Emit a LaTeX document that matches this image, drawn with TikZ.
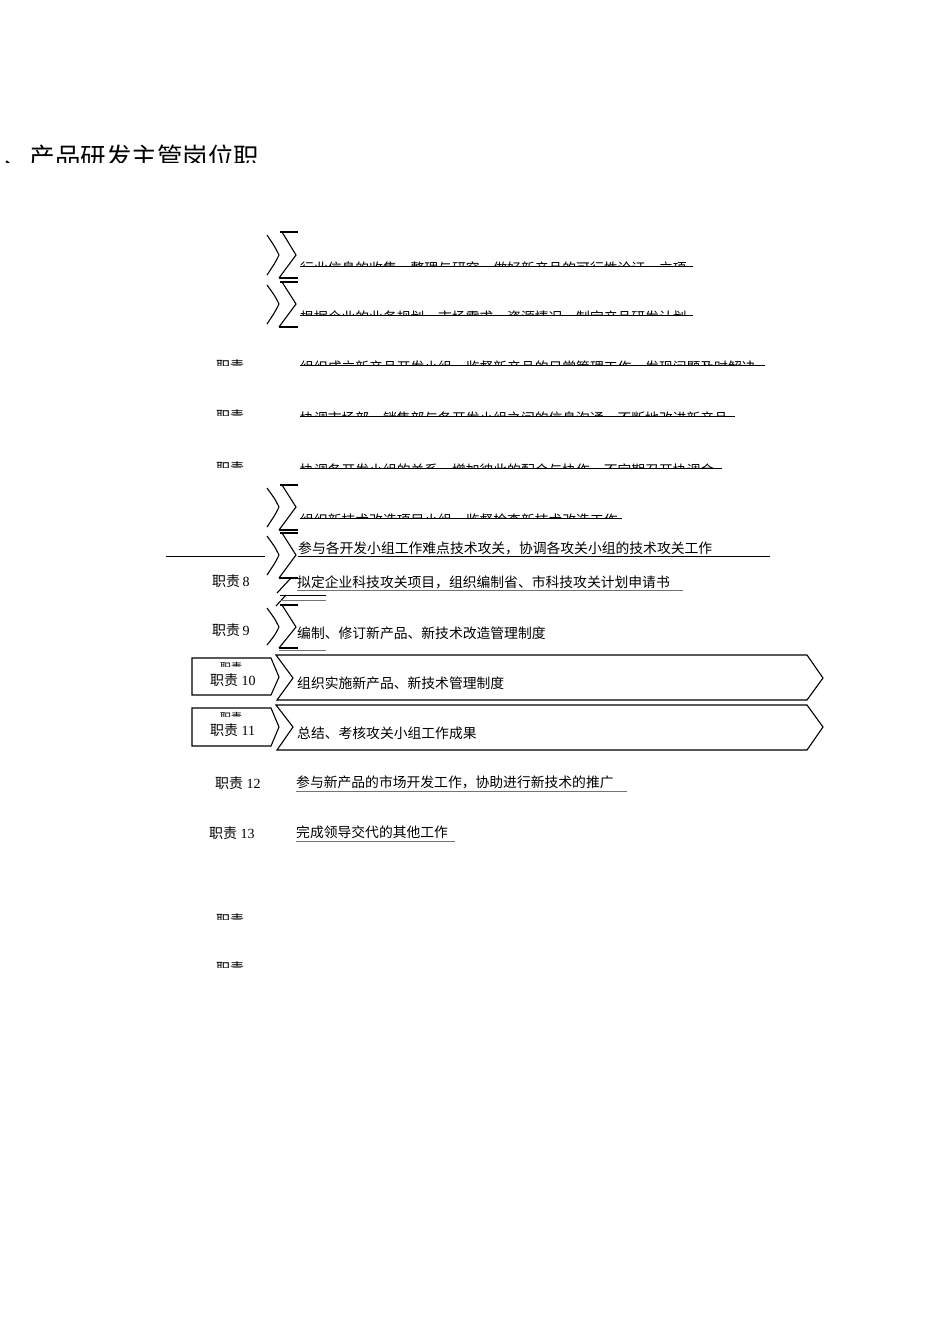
\documentclass[tikz,border=0pt]{standalone}
\usepackage{fontspec}
\setmainfont{Liberation Serif}
\newfontfamily\cjk{Noto Sans CJK SC}
\newcommand\zhize{{\cjk 职责}}
\newcommand\sigfrag[3]{%
  \draw[frag] (267,#1+3) .. controls (275,#2-8) .. (279,#2) .. controls (275,#2+8) .. (267,#3-3);
  \draw[frag] (280,#1) -- (298,#1);
  \draw[frag] (282,#1) -- (296,#2) -- (279,#3);
  \draw[frag] (279,#3) -- (298,#3);}
\begin{document}
\begin{tikzpicture}[x=1pt,y=-1pt,
  txt/.style={anchor=west,inner sep=0pt,font=\cjk\fontsize{13.8}{14}\selectfont},
  lab/.style={anchor=center,inner sep=0pt,font=\fontsize{14}{15}\selectfont},
  frag/.style={line width=1.1pt,line join=miter},
  uline/.style={line width=0.8pt},
  gline/.style={line width=0.9pt,draw=black!55},
  boxline/.style={draw,line width=1.1pt,fill=white}]
\useasboundingbox (0,0) rectangle (950,1344);

% title (cut at the bottom)
\begin{scope}
\clip (0,0) rectangle (950,162);
\node[anchor=west,inner sep=0pt,font=\cjk\fontsize{25.5}{27}\selectfont] (title) at (4,157) {、产品研发主管岗位职};
\end{scope}

% rows 1-2
\sigfrag{232}{255}{278}
\sigfrag{282}{304}{327}
\begin{scope}
\clip (0,0) rectangle (950,266);
\node[txt] (t1) at (300,268) {行业信息的收集、整理与研究，做好新产品的可行性论证、立项};
\end{scope}
\draw[uline] (300,266) -- (693,266);
\begin{scope}
\clip (0,0) rectangle (950,315);
\node[txt] (t2) at (300,317) {根据企业的业务规划、市场需求、资源情况，制定产品研发计划};
\end{scope}
\draw[uline] (300,315) -- (693,315);

% rows 3-5
\begin{scope}
\clip (0,0) rectangle (950,365);
\node[lab] (l3) at (230,366) {\zhize};
\node[txt] (t3) at (300,367) { 组织成立新产品开发小组，监督新产品的日常管理工作，发现问题及时解决};
\end{scope}
\draw[uline] (300,365) -- (765,365);
\begin{scope}
\clip (0,0) rectangle (950,415);
\node[lab] (l4) at (230,416) {\zhize};
\node[txt] (t4) at (300,418) {协调市场部、销售部与各开发小组之间的信息沟通，不断地改进新产品};
\end{scope}
\draw[uline] (300,416) -- (735,416);
\begin{scope}
\clip (0,0) rectangle (950,467);
\node[lab] (l5) at (230,468) {\zhize};
\node[txt] (t5) at (300,470) {协调各开发小组的关系，增加彼此的配合与协作，不定期召开协调会};
\end{scope}
\draw[uline] (300,468) -- (722,468);

% row 6
\sigfrag{485}{507}{530}
\begin{scope}
\clip (0,0) rectangle (950,518);
\node[txt] (t6) at (300,520) {组织新技术改造项目小组，监督检查新技术改造工作};
\end{scope}
\draw[uline] (300,518) -- (622,518);

% row 7
\sigfrag{533}{555}{578}
\node[txt] (t7) at (298,548) {参与各开发小组工作难点技术攻关，协调各攻关小组的技术攻关工作};
\draw[uline] (166,556) -- (265,556);
\draw[uline] (298,556) -- (770,556);

% row 8
\node[lab,anchor=west] (l8) at (212,581) {\zhize\,8};
\draw[frag] (277,593) -- (291,578);
\draw[frag] (276,606) -- (286,595);
\draw[uline] (280,595) -- (326,595);
\draw[gline] (280,600) -- (326,600);
\node[txt] (t8) at (297,582) {拟定企业科技攻关项目，组织编制省、市科技攻关计划申请书};
\draw[gline] (297,590) -- (683,590);

% row 9
\sigfrag{605}{627}{648}
\draw[gline] (279,650) -- (326,650);
\node[lab,anchor=west] (l9) at (212,630) {\zhize\,9};
\node[txt] (t9) at (297,633) {编制、修订新产品、新技术改造管理制度};

% row 10
\path[boxline] (276,655) -- (807,655) -- (823,678) -- (807,700) -- (277,700) -- (293,678) -- cycle;
\path[boxline] (192,658) -- (271,658) -- (279,677) -- (271,695) -- (192,695) -- cycle;
\begin{scope}
\clip (0,0) rectangle (950,666);
\node[lab,font=\fontsize{11}{12}\selectfont] (l10a) at (231,667) {\zhize};
\end{scope}
\node[lab,anchor=west] (l10) at (210,680) {\zhize\ 10};
\node[txt] (t10) at (297,683) {组织实施新产品、新技术管理制度};

% row 11
\path[boxline] (276,705) -- (807,705) -- (823,727) -- (807,750) -- (277,750) -- (293,727) -- cycle;
\path[boxline] (192,708) -- (271,708) -- (279,727) -- (271,746) -- (192,746) -- cycle;
\begin{scope}
\clip (0,0) rectangle (950,716);
\node[lab,font=\fontsize{11}{12}\selectfont] (l11a) at (231,717) {\zhize};
\end{scope}
\node[lab,anchor=west] (l11) at (210,730) {\zhize\ 11};
\node[txt] (t11) at (297,733) {总结、考核攻关小组工作成果};

% rows 12-13
\node[lab,anchor=west] (l12) at (215,783) {\zhize\ 12};
\node[txt] (t12) at (296,782) {参与新产品的市场开发工作，协助进行新技术的推广};
\draw[gline] (296,791) -- (627,791);
\node[lab,anchor=west] (l13) at (209,833) {\zhize\ 13};
\node[txt] (t13) at (296,832) {完成领导交代的其他工作};
\draw[gline] (296,841) -- (455,841);

% cut labels below
\begin{scope}
\clip (0,0) rectangle (950,919);
\node[lab] (l14) at (230,920) {\zhize};
\end{scope}
\begin{scope}
\clip (0,0) rectangle (950,967);
\node[lab] (l15) at (230,968) {\zhize};
\end{scope}
\end{tikzpicture}
\end{document}
